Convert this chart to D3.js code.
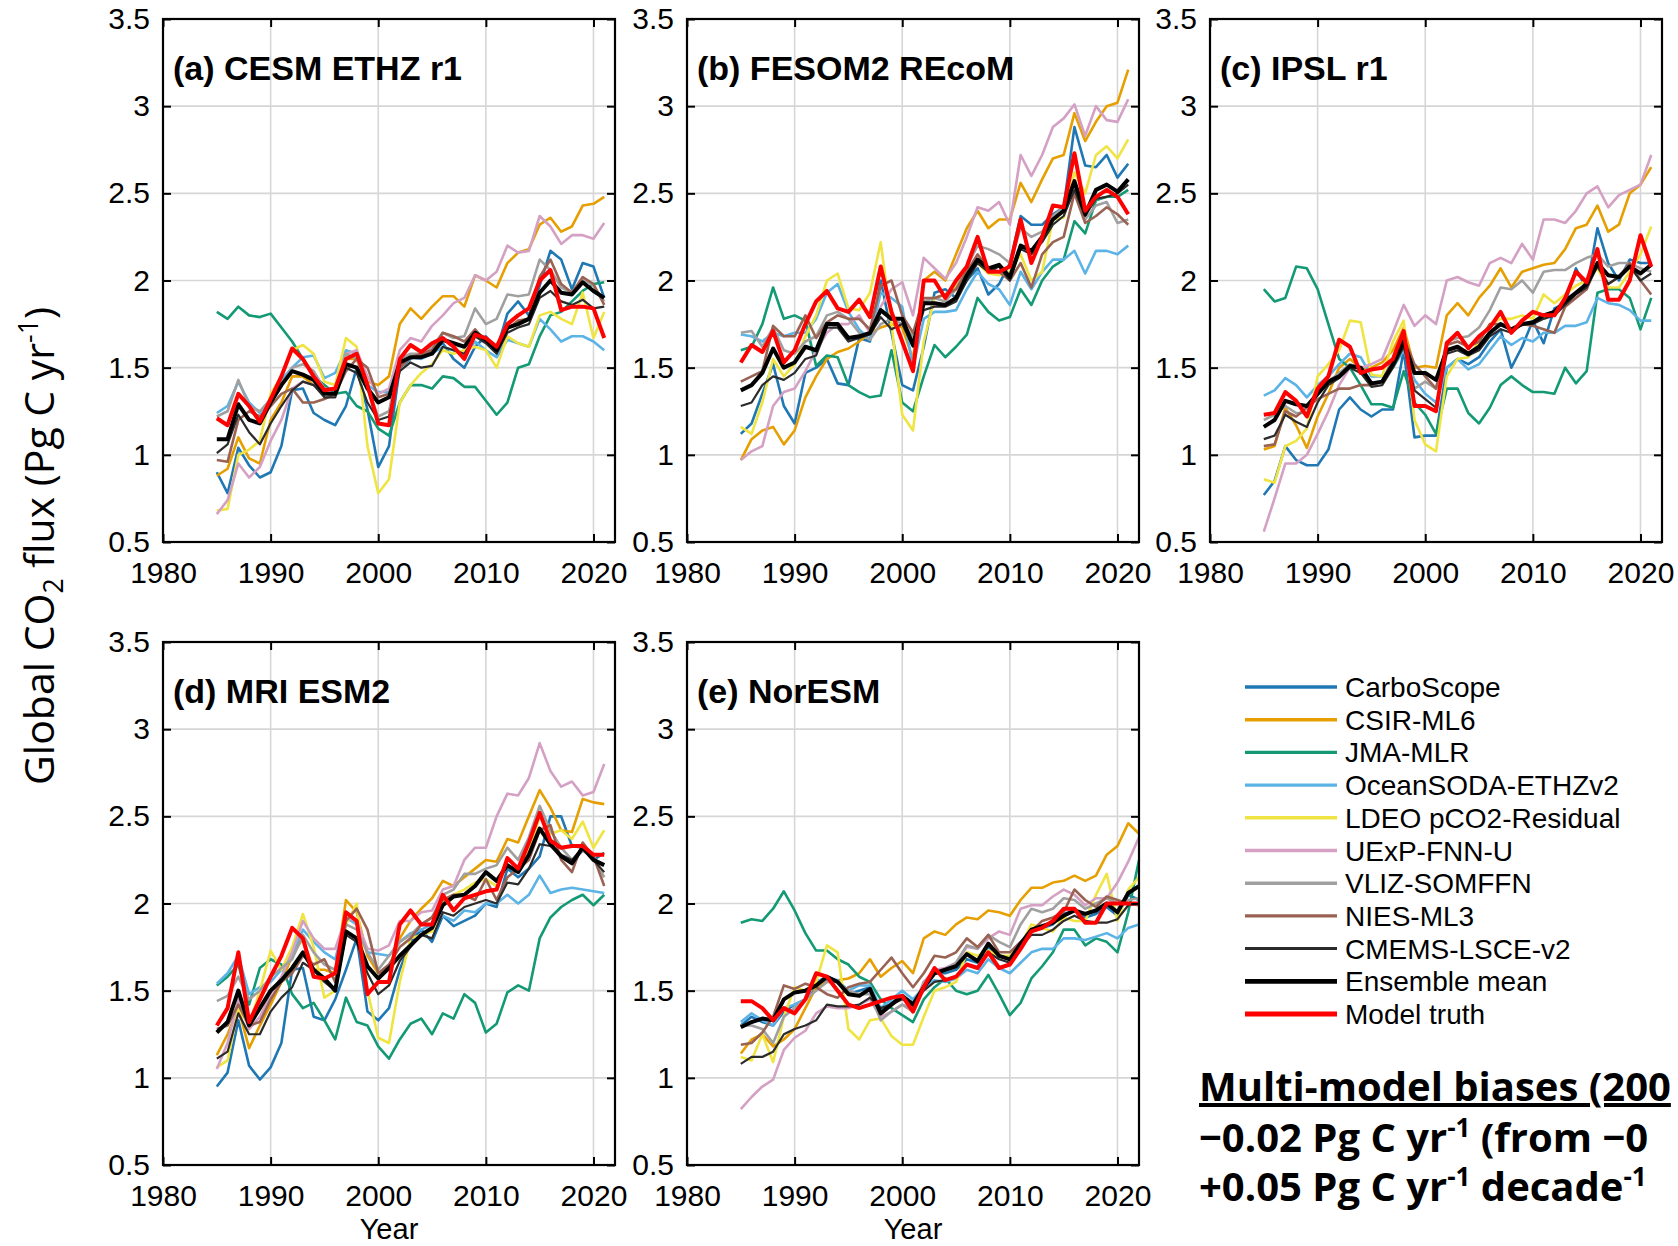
<!DOCTYPE html>
<html>
<head>
<meta charset="utf-8">
<script src="https://cdn.jsdelivr.net/npm/d3@7"></script>
<style>
  body { margin: 0; background: #fff; }
  svg { display: block; }
</style>
</head>
<body>
<div id="chart"></div>
<script>
"use strict";

/* Data */
// Global CO2 flux (Pg C / yr), 1985-2021 (panel e to 2022)
const yearsAD = d3.range(1985, 2022);
const yearsE = d3.range(1985, 2023);

const seriesNames = ["CarboScope", "CSIR-ML6", "JMA-MLR", "OceanSODA-ETHZv2",
  "LDEO pCO2-Residual", "UExP-FNN-U", "VLIZ-SOMFFN", "NIES-ML3", "CMEMS-LSCE-v2",
  "Ensemble mean", "Model truth"];

const panelTitles = ["(a) CESM ETHZ r1", "(b) FESOM2 REcoM", "(c) IPSL r1",
  "(d) MRI ESM2", "(e) NorESM"];

const xTicks = [1980, 1990, 2000, 2010, 2020];
const yTicks = [0.5, 1, 1.5, 2, 2.5, 3, 3.5];
const yTickLabels = ["0.5", "1", "1.5", "2", "2.5", "3", "3.5"];

// (a) CESM ETHZ r1 - rows in seriesNames order
const cesmData = [
  [0.90,0.78,1.04,0.94,0.87,0.90,1.05,1.37,1.38,1.24, 1.20,1.17,1.28,1.50,1.26,0.93,1.05,1.50,1.55,1.58, 1.60,1.64,1.55,1.50,1.62,1.68,1.60,1.81,1.88,1.80, 1.97,2.17,2.12,1.95,2.10,2.08,1.90],
  [0.88,0.92,1.10,0.98,0.95,1.20,1.30,1.45,1.45,1.40, 1.37,1.38,1.55,1.55,1.42,1.40,1.45,1.75,1.84,1.78, 1.85,1.91,1.91,1.85,2.03,2.00,1.96,2.10,2.16,2.18, 2.32,2.36,2.28,2.31,2.43,2.44,2.48],
  [1.82,1.78,1.85,1.80,1.79,1.81,1.73,1.65,1.55,1.45, 1.40,1.35,1.36,1.28,1.25,1.15,1.11,1.30,1.40,1.40, 1.38,1.45,1.44,1.39,1.39,1.31,1.23,1.30,1.50,1.52, 1.68,1.80,1.82,1.88,1.94,1.98,1.99],
  [1.24,1.28,1.42,1.30,1.24,1.32,1.43,1.50,1.56,1.57, 1.44,1.47,1.60,1.58,1.40,1.36,1.36,1.50,1.56,1.55, 1.58,1.62,1.60,1.57,1.65,1.60,1.56,1.66,1.64,1.62, 1.78,1.72,1.65,1.68,1.68,1.65,1.60],
  [0.68,0.69,1.00,1.03,1.08,1.35,1.45,1.60,1.63,1.58, 1.42,1.40,1.67,1.62,1.05,0.78,0.86,1.30,1.40,1.47, 1.52,1.60,1.58,1.60,1.62,1.60,1.50,1.68,1.64,1.62, 1.80,1.82,1.78,1.75,1.93,1.67,1.82],
  [0.66,0.74,0.95,0.87,0.93,1.08,1.20,1.38,1.42,1.40, 1.36,1.38,1.58,1.60,1.45,1.35,1.38,1.60,1.67,1.65, 1.74,1.80,1.87,1.90,2.03,2.00,2.05,2.20,2.16,2.17, 2.37,2.31,2.21,2.26,2.26,2.24,2.33],
  [1.22,1.25,1.43,1.28,1.25,1.32,1.40,1.50,1.52,1.48, 1.38,1.37,1.58,1.55,1.38,1.22,1.25,1.55,1.58,1.58, 1.62,1.70,1.67,1.68,1.84,1.75,1.78,1.92,1.91,1.92, 2.12,2.06,1.96,1.93,2.01,1.97,1.88],
  [0.97,0.96,1.20,1.25,1.22,1.28,1.35,1.38,1.30,1.30, 1.32,1.35,1.48,1.55,1.50,1.33,1.35,1.50,1.56,1.58, 1.60,1.70,1.68,1.65,1.72,1.65,1.60,1.72,1.77,1.78, 2.02,2.12,1.98,1.93,2.02,1.98,1.86],
  [1.01,1.06,1.23,1.13,1.06,1.18,1.28,1.37,1.42,1.40, 1.33,1.33,1.50,1.47,1.30,1.20,1.22,1.48,1.53,1.50, 1.51,1.62,1.60,1.58,1.68,1.64,1.58,1.70,1.73,1.75, 1.90,1.94,1.88,1.86,1.89,1.84,1.85],
  [1.09,1.09,1.29,1.20,1.18,1.30,1.40,1.48,1.46,1.43, 1.35,1.35,1.52,1.50,1.38,1.30,1.33,1.53,1.56,1.56, 1.58,1.66,1.64,1.62,1.70,1.66,1.60,1.73,1.75,1.78, 1.93,2.00,1.93,1.92,1.99,1.94,1.90],
  [1.21,1.17,1.35,1.28,1.19,1.32,1.45,1.61,1.55,1.45, 1.37,1.38,1.55,1.58,1.40,1.18,1.17,1.55,1.63,1.59, 1.64,1.67,1.62,1.55,1.69,1.67,1.62,1.75,1.80,1.84, 2.00,2.06,1.83,1.85,1.85,1.84,1.67]
];

// (b) FESOM2 REcoM
const fesomData = [
  [1.12,1.18,1.35,1.52,1.28,1.18,1.47,1.50,1.55,1.41, 1.40,1.67,1.65,2.00,1.70,1.40,1.37,1.62,1.93,1.95, 1.90,2.00,2.07,1.92,1.98,2.10,2.37,2.32,2.32,2.38, 2.42,2.88,2.66,2.65,2.72,2.59,2.67],
  [0.97,1.09,1.14,1.16,1.06,1.14,1.33,1.45,1.55,1.59, 1.61,1.65,1.70,1.73,1.75,1.73,1.55,2.00,2.05,2.00, 2.15,2.30,2.40,2.30,2.35,2.35,2.56,2.45,2.58,2.70, 2.72,2.96,2.80,2.91,3.00,3.02,3.21],
  [1.60,1.62,1.75,1.96,1.78,1.80,1.77,1.51,1.57,1.56, 1.40,1.36,1.33,1.34,1.60,1.30,1.25,1.45,1.63,1.56, 1.62,1.69,1.90,1.82,1.77,1.79,1.95,1.86,2.00,2.08, 2.12,2.34,2.27,2.46,2.48,2.48,2.52],
  [1.69,1.68,1.65,1.70,1.68,1.70,1.70,1.78,1.93,1.98, 1.82,1.72,1.66,1.93,1.90,1.85,1.50,1.78,1.82,1.82, 1.83,1.95,2.05,1.98,1.95,1.86,2.05,1.95,2.05,2.12, 2.12,2.17,2.04,2.17,2.17,2.15,2.20],
  [1.16,1.12,1.30,1.55,1.45,1.52,1.68,1.80,2.00,2.04, 1.84,1.83,1.93,2.22,1.75,1.23,1.14,1.65,1.90,1.92, 1.97,2.05,2.10,2.04,2.03,2.05,2.15,2.00,2.05,2.35, 2.36,2.62,2.50,2.72,2.77,2.70,2.81],
  [0.97,1.02,1.05,1.28,1.36,1.38,1.48,1.60,1.70,1.75, 1.75,1.80,1.70,1.85,1.95,1.99,1.80,2.13,2.07,2.01, 2.10,2.25,2.42,2.40,2.45,2.32,2.72,2.60,2.72,2.88, 2.93,3.01,2.83,3.00,2.92,2.91,3.04],
  [1.70,1.71,1.62,1.73,1.60,1.58,1.65,1.68,1.80,1.82, 1.78,1.70,1.66,1.75,1.78,1.75,1.68,1.88,1.90,1.88, 1.95,2.08,2.20,2.18,2.15,2.10,2.30,2.25,2.28,2.37, 2.42,2.55,2.35,2.43,2.45,2.33,2.35],
  [1.42,1.45,1.48,1.74,1.68,1.68,1.80,1.67,1.76,1.80, 1.78,1.78,1.72,1.97,2.00,1.80,1.70,1.90,1.90,1.92, 1.95,2.05,2.15,2.07,2.05,2.00,2.10,1.96,2.15,2.22, 2.25,2.50,2.33,2.37,2.42,2.38,2.32],
  [1.28,1.30,1.40,1.45,1.43,1.47,1.55,1.57,1.73,1.73, 1.65,1.67,1.69,1.79,1.72,1.75,1.62,1.83,1.85,1.85, 1.88,2.00,2.10,2.05,2.08,2.00,2.18,2.15,2.22,2.32, 2.37,2.52,2.37,2.47,2.48,2.50,2.55],
  [1.37,1.40,1.47,1.61,1.50,1.53,1.62,1.60,1.75,1.75, 1.67,1.68,1.70,1.83,1.78,1.78,1.63,1.87,1.87,1.86, 1.90,2.03,2.12,2.07,2.09,2.02,2.20,2.17,2.25,2.35, 2.40,2.57,2.38,2.52,2.55,2.51,2.58],
  [1.53,1.63,1.59,1.71,1.53,1.60,1.75,1.88,1.94,1.84, 1.82,1.89,1.79,2.08,1.82,1.65,1.48,2.00,2.00,1.90, 2.00,2.08,2.25,2.05,2.05,2.08,2.35,2.10,2.25,2.43, 2.42,2.73,2.40,2.48,2.52,2.48,2.38]
];

// (c) IPSL r1
const ipslData = [
  [0.77,0.85,1.05,0.97,0.94,0.94,1.03,1.26,1.33,1.26, 1.22,1.26,1.26,1.60,1.10,1.11,1.11,1.50,1.55,1.52, 1.56,1.65,1.72,1.50,1.62,1.77,1.64,1.84,1.87,2.07, 1.95,2.30,2.10,2.00,2.12,2.10,2.10],
  [1.03,1.05,1.27,1.17,1.04,1.22,1.35,1.50,1.55,1.50, 1.50,1.53,1.60,1.73,1.50,1.51,1.50,1.80,1.87,1.80, 1.90,1.97,2.07,1.96,2.05,2.07,2.09,2.10,2.18,2.30, 2.32,2.43,2.28,2.32,2.50,2.55,2.65],
  [1.95,1.88,1.90,2.08,2.07,1.95,1.75,1.55,1.50,1.40, 1.29,1.29,1.27,1.48,1.30,1.23,1.12,1.38,1.38,1.24, 1.18,1.27,1.40,1.45,1.40,1.36,1.36,1.35,1.50,1.41, 1.48,1.93,1.95,1.95,1.90,1.72,1.90],
  [1.34,1.37,1.44,1.40,1.33,1.40,1.45,1.52,1.58,1.56, 1.45,1.45,1.50,1.60,1.43,1.35,1.30,1.50,1.55,1.49, 1.52,1.60,1.68,1.63,1.67,1.65,1.70,1.70,1.74,1.74, 1.76,1.90,1.87,1.86,1.83,1.77,1.77],
  [0.86,0.84,1.05,1.08,1.15,1.45,1.52,1.60,1.77,1.76, 1.46,1.45,1.65,1.77,1.20,1.06,1.02,1.45,1.55,1.56, 1.65,1.75,1.78,1.78,1.80,1.78,1.92,1.87,1.92,1.97, 2.00,2.07,1.96,1.96,2.05,2.15,2.31],
  [0.56,0.75,0.95,0.95,1.00,1.12,1.25,1.40,1.50,1.50, 1.52,1.55,1.70,1.86,1.74,1.80,1.75,2.00,2.02,1.99, 1.97,2.10,2.13,2.10,2.21,2.12,2.35,2.35,2.33,2.40, 2.50,2.54,2.42,2.49,2.52,2.55,2.72],
  [1.20,1.23,1.28,1.24,1.24,1.35,1.42,1.47,1.52,1.50, 1.40,1.42,1.55,1.68,1.38,1.42,1.38,1.65,1.67,1.68, 1.73,1.83,1.96,1.95,2.00,1.93,2.05,2.06,2.06,2.10, 2.13,2.15,2.08,2.10,2.10,2.07,2.05],
  [1.05,1.06,1.25,1.22,1.27,1.32,1.35,1.38,1.38,1.40, 1.40,1.42,1.55,1.67,1.52,1.45,1.38,1.63,1.65,1.62, 1.65,1.75,1.75,1.72,1.75,1.74,1.72,1.70,1.85,1.90, 1.95,2.10,1.98,2.02,2.10,2.00,1.92],
  [1.09,1.11,1.23,1.19,1.16,1.30,1.40,1.44,1.50,1.47, 1.39,1.40,1.50,1.62,1.37,1.32,1.27,1.58,1.60,1.57, 1.60,1.68,1.72,1.70,1.75,1.75,1.78,1.80,1.86,1.92, 1.96,2.08,1.98,2.02,2.08,2.00,2.04],
  [1.16,1.20,1.31,1.29,1.28,1.35,1.42,1.45,1.51,1.50, 1.41,1.42,1.52,1.65,1.47,1.47,1.43,1.60,1.62,1.58, 1.62,1.70,1.75,1.72,1.75,1.76,1.80,1.82,1.88,1.93, 1.98,2.10,2.03,2.02,2.08,2.04,2.09],
  [1.23,1.24,1.36,1.31,1.22,1.38,1.45,1.66,1.62,1.47, 1.49,1.50,1.55,1.71,1.28,1.28,1.25,1.64,1.70,1.61, 1.68,1.73,1.82,1.70,1.77,1.82,1.80,1.80,1.90,2.05, 1.99,2.18,1.89,1.89,2.00,2.26,2.08]
];

// (d) MRI ESM2
const mriData = [
  [0.95,1.03,1.33,1.07,0.99,1.06,1.20,1.62,1.63,1.35, 1.33,1.45,1.62,1.80,1.38,1.33,1.40,1.62,1.78,1.85, 1.78,1.93,1.87,1.90,1.93,2.00,1.98,2.20,2.15,2.20, 2.27,2.50,2.50,2.33,2.32,2.25,2.29],
  [1.13,1.25,1.40,1.17,1.30,1.42,1.55,1.70,1.80,1.62, 1.62,1.60,2.02,1.95,1.70,1.60,1.63,1.80,1.90,1.97, 2.03,2.13,2.10,2.15,2.20,2.25,2.24,2.37,2.35,2.50, 2.65,2.55,2.42,2.41,2.60,2.58,2.57],
  [1.53,1.58,1.65,1.42,1.63,1.68,1.65,1.48,1.40,1.43, 1.33,1.22,1.46,1.32,1.30,1.18,1.11,1.22,1.31,1.34, 1.25,1.37,1.34,1.48,1.43,1.26,1.31,1.49,1.53,1.50, 1.80,1.92,1.98,2.02,2.05,1.99,2.05],
  [1.54,1.60,1.70,1.48,1.52,1.55,1.62,1.70,1.85,1.78, 1.72,1.68,1.92,1.88,1.72,1.71,1.70,1.78,1.83,1.85, 1.88,1.93,1.90,1.96,1.95,2.00,2.00,2.05,2.00,2.05, 2.16,2.06,2.08,2.09,2.08,2.07,2.06],
  [1.06,1.10,1.40,1.30,1.50,1.73,1.62,1.75,1.94,1.75, 1.46,1.50,1.88,2.00,1.50,1.23,1.20,1.55,1.80,1.82, 1.84,2.00,2.05,2.08,2.12,2.14,2.10,2.22,2.18,2.30, 2.50,2.40,2.42,2.37,2.47,2.32,2.42],
  [1.05,1.20,1.45,1.28,1.35,1.48,1.58,1.72,1.90,1.80, 1.74,1.74,1.92,1.90,1.74,1.73,1.76,1.90,1.90,1.95, 1.96,2.08,2.10,2.25,2.32,2.32,2.50,2.63,2.62,2.72, 2.92,2.76,2.67,2.70,2.62,2.64,2.80],
  [1.44,1.47,1.58,1.45,1.50,1.58,1.63,1.68,1.82,1.72, 1.65,1.62,1.88,1.85,1.72,1.62,1.70,1.78,1.82,1.88, 1.92,2.05,2.08,2.17,2.17,2.20,2.22,2.32,2.25,2.38, 2.56,2.42,2.32,2.25,2.30,2.27,2.15],
  [1.28,1.30,1.42,1.30,1.32,1.45,1.55,1.60,1.70,1.65, 1.68,1.55,1.90,1.97,1.85,1.60,1.65,1.75,1.80,1.88, 1.92,2.02,2.05,2.05,2.02,2.14,2.02,2.15,2.20,2.25, 2.42,2.45,2.25,2.18,2.35,2.27,2.10],
  [1.11,1.15,1.37,1.25,1.25,1.38,1.46,1.52,1.66,1.62, 1.55,1.50,1.82,1.78,1.60,1.48,1.53,1.67,1.75,1.82, 1.80,1.95,1.93,1.98,2.00,2.02,2.00,2.12,2.11,2.20, 2.34,2.33,2.28,2.25,2.32,2.25,2.18],
  [1.26,1.32,1.50,1.30,1.40,1.50,1.56,1.63,1.72,1.62, 1.57,1.50,1.84,1.80,1.64,1.57,1.63,1.70,1.76,1.82, 1.86,1.99,2.04,2.05,2.10,2.18,2.13,2.22,2.18,2.28, 2.43,2.34,2.27,2.23,2.32,2.25,2.22],
  [1.30,1.40,1.72,1.32,1.45,1.58,1.70,1.86,1.80,1.58, 1.57,1.60,1.95,1.90,1.48,1.55,1.55,1.88,1.96,1.88, 1.88,2.05,1.96,2.03,2.05,2.07,2.08,2.26,2.20,2.35, 2.52,2.36,2.32,2.33,2.33,2.28,2.28]
];

// (e) NorESM, 1985-2022
const noresmData = [
  [1.30,1.35,1.32,1.30,1.38,1.42,1.45,1.52,1.56,1.55, 1.48,1.50,1.52,1.38,1.43,1.47,1.43,1.52,1.60,1.60, 1.62,1.68,1.66,1.75,1.70,1.68,1.75,1.84,1.86,1.88, 1.94,1.96,1.92,1.94,1.98,1.93,2.05,2.02],
  [1.14,1.22,1.25,1.18,1.22,1.28,1.40,1.52,1.55,1.56, 1.57,1.60,1.68,1.58,1.63,1.67,1.60,1.80,1.84,1.82, 1.88,1.92,1.91,1.96,1.95,1.93,2.02,2.09,2.09,2.12, 2.13,2.16,2.13,2.16,2.28,2.33,2.46,2.40],
  [1.89,1.91,1.90,1.97,2.07,1.96,1.83,1.73,1.73,1.68, 1.65,1.58,1.55,1.45,1.40,1.36,1.32,1.45,1.52,1.57, 1.50,1.48,1.50,1.59,1.48,1.36,1.43,1.57,1.64,1.72, 1.85,1.85,1.76,1.80,1.78,1.72,1.95,2.25],
  [1.32,1.37,1.33,1.30,1.40,1.42,1.45,1.55,1.58,1.56, 1.50,1.53,1.53,1.40,1.45,1.50,1.45,1.52,1.56,1.55, 1.57,1.62,1.60,1.68,1.63,1.60,1.66,1.72,1.74,1.74, 1.80,1.80,1.79,1.81,1.83,1.80,1.86,1.88],
  [1.12,1.10,1.25,1.09,1.35,1.52,1.50,1.55,1.76,1.72, 1.28,1.22,1.33,1.34,1.24,1.19,1.19,1.35,1.50,1.52, 1.55,1.72,1.70,1.73,1.70,1.70,1.76,1.88,1.86,1.84, 1.92,1.90,1.90,2.05,2.17,1.90,2.08,2.15],
  [0.82,0.89,0.95,0.99,1.16,1.23,1.27,1.37,1.41,1.40, 1.40,1.42,1.45,1.35,1.38,1.42,1.40,1.55,1.62,1.63, 1.66,1.75,1.74,1.80,1.84,1.82,1.97,1.99,1.99,2.04, 2.08,2.05,1.99,2.03,2.03,2.12,2.24,2.38],
  [1.30,1.30,1.28,1.20,1.35,1.40,1.45,1.50,1.55,1.55, 1.50,1.48,1.48,1.33,1.38,1.42,1.38,1.55,1.60,1.62, 1.66,1.76,1.74,1.82,1.78,1.75,1.88,1.97,1.95,1.97, 2.03,2.02,1.97,2.00,2.03,2.00,2.02,2.03],
  [1.19,1.20,1.26,1.35,1.53,1.51,1.54,1.52,1.48,1.46, 1.52,1.54,1.55,1.62,1.69,1.60,1.52,1.60,1.70,1.69, 1.72,1.80,1.75,1.82,1.72,1.72,1.78,1.84,1.90,1.92, 1.95,2.08,2.02,1.98,2.04,2.02,2.00,1.99],
  [1.08,1.12,1.12,1.15,1.25,1.28,1.30,1.33,1.42,1.41, 1.41,1.42,1.46,1.40,1.42,1.45,1.42,1.50,1.55,1.56, 1.58,1.65,1.63,1.72,1.68,1.66,1.75,1.82,1.82,1.85, 1.90,1.93,1.90,1.89,1.89,1.91,1.99,2.00],
  [1.29,1.32,1.34,1.33,1.45,1.49,1.50,1.53,1.58,1.55, 1.48,1.47,1.51,1.37,1.42,1.47,1.42,1.52,1.60,1.62, 1.64,1.71,1.67,1.77,1.70,1.68,1.77,1.85,1.87,1.89, 1.93,1.96,1.94,1.96,2.00,1.95,2.06,2.10],
  [1.44,1.44,1.40,1.33,1.40,1.37,1.45,1.60,1.58,1.50, 1.42,1.40,1.42,1.44,1.46,1.47,1.38,1.52,1.63,1.56, 1.58,1.65,1.63,1.72,1.63,1.65,1.74,1.84,1.86,1.90, 1.97,1.97,1.89,1.89,2.00,2.00,2.00,2.00]
];

/* Styles */
const seriesColors = ["#1f78b4", "#e69f00", "#139a74", "#5cb3e6", "#f0e442",
  "#d4a0c4", "#a0a0a0", "#9a6252", "#2b2b2b", "#000000", "#ff0000"];
const seriesWidths = [2.6, 2.6, 2.6, 2.6, 2.6, 2.6, 2.6, 2.6, 2.2, 4, 4];

const svgWidth = 1678;
const svgHeight = 1246;
const panelW = 452;
const panelH = 523;
const panelX = [163, 687, 1210, 163, 687];
const panelY = [19, 19, 19, 642, 642];
const tickFont = "'Liberation Sans', Arial, sans-serif";

let svg = d3.select("#chart")
  .append("svg")
  .attr("width", svgWidth)
  .attr("height", svgHeight);

const panelData = [cesmData, fesomData, ipslData, mriData, noresmData];
const panelYears = [yearsAD, yearsAD, yearsAD, yearsAD, yearsE];

function drawPanel(p) {
  let g = svg.append("g")
    .attr("transform", `translate(${panelX[p]},${panelY[p]})`);

  let x = d3.scaleLinear().domain([1980, 2022]).range([0, panelW]);
  let y = d3.scaleLinear().domain([0.5, 3.5]).range([panelH, 0]);

  /* Grid */
  g.selectAll(".gx").data(xTicks).join("line")
    .attr("x1", d => x(d)).attr("x2", d => x(d))
    .attr("y1", 0).attr("y2", panelH)
    .attr("stroke", "#d6d6d6").attr("stroke-width", 1.6);
  g.selectAll(".gy").data(yTicks).join("line")
    .attr("x1", 0).attr("x2", panelW)
    .attr("y1", d => y(d)).attr("y2", d => y(d))
    .attr("stroke", "#d6d6d6").attr("stroke-width", 1.6);

  /* Lines */
  let yrs = panelYears[p];
  let line = d3.line()
    .x((d, i) => x(yrs[i]))
    .y(d => y(d));

  g.selectAll("path.series")
    .data(panelData[p])
    .join("path")
    .attr("class", "series")
    .attr("fill", "none")
    .attr("stroke", (d, i) => seriesColors[i])
    .attr("stroke-width", (d, i) => seriesWidths[i])
    .attr("stroke-linejoin", "round")
    .attr("d", line);

  /* Axes (ticks point inward) */
  let left = g.append("g")
    .call(d3.axisLeft(y).tickValues(yTicks)
      .tickFormat((d, i) => yTickLabels[i])
      .tickSizeInner(-8).tickSizeOuter(0).tickPadding(13));
  let bottom = g.append("g")
    .attr("transform", `translate(0,${panelH})`)
    .call(d3.axisBottom(x).tickValues(xTicks).tickFormat(d3.format("d"))
      .tickSizeInner(-8).tickSizeOuter(0).tickPadding(20));
  g.append("g")
    .attr("transform", `translate(${panelW},0)`)
    .call(d3.axisRight(y).tickValues(yTicks).tickFormat("")
      .tickSizeInner(-8).tickSizeOuter(0));
  g.append("g")
    .call(d3.axisTop(x).tickValues(xTicks).tickFormat("")
      .tickSizeInner(-8).tickSizeOuter(0));

  g.selectAll(".domain").remove();
  g.selectAll(".tick line").attr("stroke", "#000").attr("stroke-width", 2);
  [left, bottom].forEach(a => a
    .attr("font-size", 30)
    .attr("font-family", tickFont)
    .selectAll("text").attr("fill", "#000"));

  /* Frame */
  g.append("rect")
    .attr("x", 0).attr("y", 0)
    .attr("width", panelW).attr("height", panelH)
    .attr("fill", "none").attr("stroke", "#000").attr("stroke-width", 2.2);

  /* Title */
  g.append("text")
    .attr("x", 10).attr("y", 61)
    .attr("font-family", "'Liberation Sans', Arial, sans-serif")
    .attr("font-weight", "bold")
    .attr("font-size", 34)
    .text(panelTitles[p]);
}

for (let p = 0; p < panelTitles.length; p++) {
  drawPanel(p);
}

/* helper for sub/superscripts */
function richText(t, parts, size) {
  let shift = 0;
  parts.forEach(part => {
    let target = part[1] === "sup" ? -0.38 * size : part[1] === "sub" ? 0.22 * size : 0;
    t.append("tspan")
      .attr("dy", target - shift)
      .attr("font-size", part[1] === "n" ? size : size * 0.65)
      .text(part[0]);
    shift = target;
  });
}

/* Y label */
let yLab = svg.append("text")
  .attr("transform", "translate(54,546) rotate(-90)")
  .attr("text-anchor", "middle")
  .attr("font-family", "'Open Sans', sans-serif")
  .attr("font-size", 41);
richText(yLab, [["Global CO", "n"], ["2", "sub"], [" flux (Pg C yr", "n"], ["-1", "sup"], [")", "n"]], 41);

/* X labels */
[3, 4].forEach(p => {
  svg.append("text")
    .attr("x", panelX[p] + panelW / 2)
    .attr("y", 1239)
    .attr("text-anchor", "middle")
    .attr("font-family", tickFont)
    .attr("font-size", 29)
    .text("Year");
});

/* Legend */
let legend = svg.append("g")
  .attr("font-family", tickFont)
  .attr("font-size", 28);

legend.selectAll("line")
  .data(seriesNames)
  .join("line")
  .attr("x1", 1245).attr("x2", 1337)
  .attr("y1", (d, i) => 687 + i * 32.7)
  .attr("y2", (d, i) => 687 + i * 32.7)
  .attr("stroke", (d, i) => seriesColors[i])
  .attr("stroke-width", (d, i) => seriesWidths[i] + 0.8);

legend.selectAll("text")
  .data(seriesNames)
  .join("text")
  .attr("x", 1345)
  .attr("y", (d, i) => 687 + i * 32.7)
  .attr("dy", "0.36em")
  .text(d => d);

/* Bias note (cut at the right edge, as in the figure) */
let note = svg.append("g")
  .attr("font-family", "'Open Sans', sans-serif")
  .attr("font-weight", "bold")
  .attr("font-size", 40);

note.append("text")
  .attr("x", 1199).attr("y", 1101)
  .style("text-decoration", "underline")
  .text("Multi-model biases (200");

let n2 = note.append("text").attr("x", 1199).attr("y", 1152);
richText(n2, [["\u22120.02 Pg C yr", "n"], ["-1", "sup"], [" (from \u22120", "n"]], 40);

let n3 = note.append("text").attr("x", 1199).attr("y", 1201);
richText(n3, [["+0.05 Pg C yr", "n"], ["-1", "sup"], [" decade", "n"], ["-1", "sup"]], 40);
</script>
</body>
</html>
